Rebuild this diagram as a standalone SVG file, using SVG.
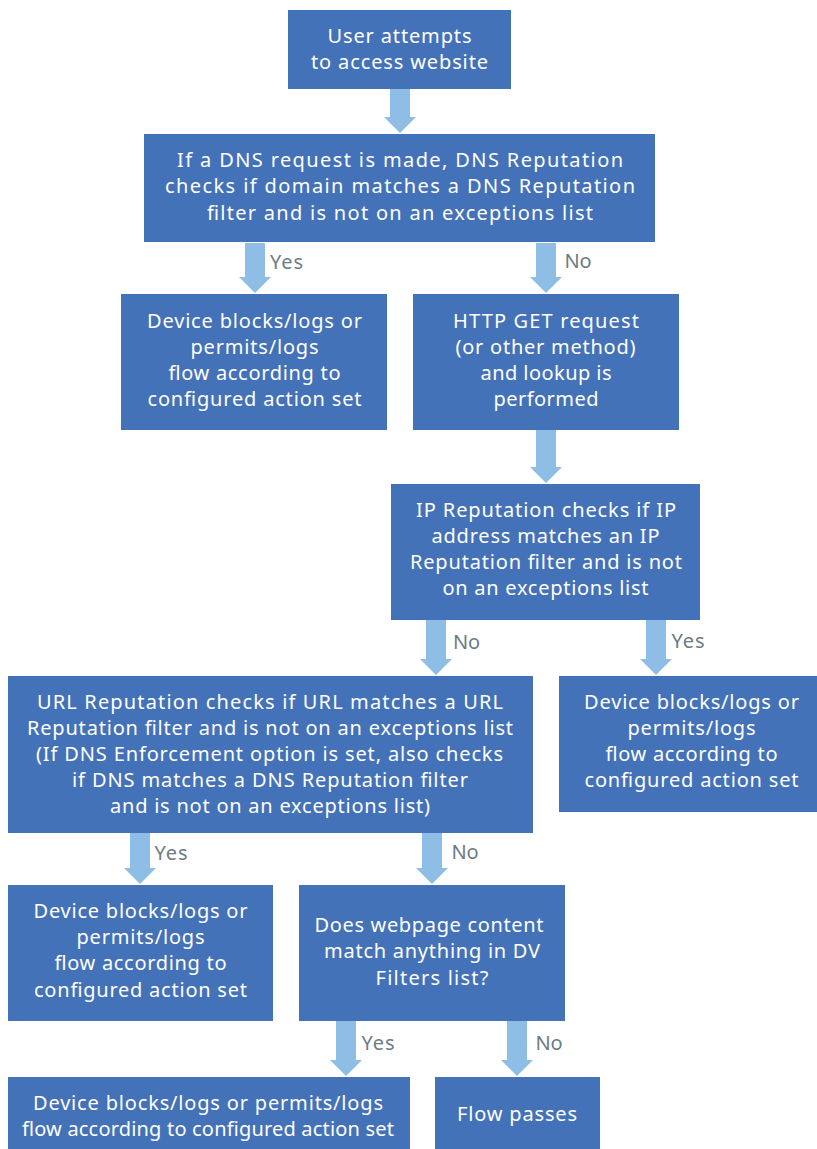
<svg xmlns="http://www.w3.org/2000/svg" width="817" height="1149" viewBox="0 0 817 1149">
<style>
.box{fill:#4472b8}
.t{font-family:"Noto Sans","Liberation Sans",sans-serif;font-size:20px;fill:#ffffff;text-anchor:middle}
.lbl{font-family:"Noto Sans","Liberation Sans",sans-serif;font-size:20px;fill:#6d7b83}
.arr{fill:#8ebee5}
</style>
<rect width="817" height="1149" fill="#ffffff"/>
<g id="connectors">
<polygon class="arr" points="390,89 410,89 410,117 416,117 400,133 384,117 390,117"/>
<polygon class="arr" points="245,243 265,243 265,277 271,277 255,293 239,277 245,277"/>
<polygon class="arr" points="536,243 556,243 556,277 562,277 546,293 530,277 536,277"/>
<polygon class="arr" points="536,430 556,430 556,467 562,467 546,483 530,467 536,467"/>
<polygon class="arr" points="426,620 446,620 446,659 452,659 436,675 420,659 426,659"/>
<polygon class="arr" points="646,620 666,620 666,659 672,659 656,675 640,659 646,659"/>
<polygon class="arr" points="130,833 150,833 150,868 156,868 140,884 124,868 130,868"/>
<polygon class="arr" points="422,833 442,833 442,868 448,868 432,884 416,868 422,868"/>
<polygon class="arr" points="336,1021 356,1021 356,1060 362,1060 346,1076 330,1060 336,1060"/>
<polygon class="arr" points="507,1021 527,1021 527,1060 533,1060 517,1076 501,1060 507,1060"/>
<text class="lbl" x="270" y="269" textLength="33">Yes</text>
<text class="lbl" x="564.5" y="268" textLength="27">No</text>
<text class="lbl" x="453" y="649" textLength="27">No</text>
<text class="lbl" x="671.5" y="648" textLength="33">Yes</text>
<text class="lbl" x="154.5" y="860" textLength="33">Yes</text>
<text class="lbl" x="451.5" y="859" textLength="27">No</text>
<text class="lbl" x="361.5" y="1050" textLength="33">Yes</text>
<text class="lbl" x="535.5" y="1050" textLength="27">No</text>
</g>
<g id="n1"><rect class="box" x="288" y="10" width="223" height="79"/>
<text class="t" x="399.5" y="43" textLength="144">User attempts</text><text class="t" x="399.5" y="69" textLength="177">to access website</text></g>
<g id="n2"><rect class="box" x="144" y="134" width="511" height="108"/>
<text class="t" x="400" y="167" textLength="446">If a DNS request is made, DNS Reputation</text>
<text class="t" x="400" y="193" textLength="470">checks if domain matches a DNS Reputation</text>
<text class="t" x="400" y="220" textLength="386">filter and is not on an exceptions list</text></g>
<g id="n3"><rect class="box" x="121" y="294" width="266" height="136"/>
<text class="t" x="254.5" y="328" textLength="215">Device blocks/logs or</text>
<text class="t" x="254.5" y="354" textLength="128">permits/logs</text>
<text class="t" x="254.5" y="380" textLength="172">flow according to</text>
<text class="t" x="254.5" y="406" textLength="214">configured action set</text></g>
<g id="n4"><rect class="box" x="413" y="294" width="266" height="136"/>
<text class="t" x="546" y="328" textLength="186">HTTP GET request</text>
<text class="t" x="545.5" y="354" textLength="180">(or other method)</text>
<text class="t" x="546" y="380" textLength="131">and lookup is</text>
<text class="t" x="546" y="406" textLength="105">performed</text></g>
<g id="n5"><rect class="box" x="391" y="484" width="309" height="136"/>
<text class="t" x="546" y="517" textLength="260">IP Reputation checks if IP</text>
<text class="t" x="545.5" y="543" textLength="228">address matches an IP</text>
<text class="t" x="546" y="569" textLength="272">Reputation filter and is not</text>
<text class="t" x="545.5" y="595" textLength="206">on an exceptions list</text></g>
<g id="n6"><rect class="box" x="8" y="676" width="525" height="157"/>
<text class="t" x="270" y="709" textLength="466">URL Reputation checks if URL matches a URL</text>
<text class="t" x="270" y="735" textLength="486">Reputation filter and is not on an exceptions list</text>
<text class="t" x="269.5" y="761" textLength="467">(If DNS Enforcement option is set, also checks</text>
<text class="t" x="270" y="787" textLength="396">if DNS matches a DNS Reputation filter</text>
<text class="t" x="270" y="813" textLength="320">and is not on an exceptions list)</text></g>
<g id="n7"><rect class="box" x="559" y="676" width="258" height="136"/>
<text class="t" x="691.5" y="709" textLength="215">Device blocks/logs or</text>
<text class="t" x="691.5" y="735" textLength="128">permits/logs</text>
<text class="t" x="691.5" y="761" textLength="172">flow according to</text>
<text class="t" x="691.5" y="787" textLength="214">configured action set</text></g>
<g id="n8"><rect class="box" x="8" y="885" width="265" height="136"/>
<text class="t" x="140.5" y="918" textLength="214">Device blocks/logs or</text>
<text class="t" x="140.5" y="944" textLength="128">permits/logs</text>
<text class="t" x="140.5" y="970" textLength="172">flow according to</text>
<text class="t" x="140.5" y="997" textLength="213">configured action set</text></g>
<g id="n9"><rect class="box" x="299" y="885" width="266" height="136"/>
<text class="t" x="429" y="932" textLength="229">Does webpage content</text>
<text class="t" x="432" y="958" textLength="216">match anything in DV</text>
<text class="t" x="432" y="985" textLength="113">Filters list?</text></g>
<g id="n10"><rect class="box" x="8" y="1077" width="402" height="72"/>
<text class="t" x="208" y="1110" textLength="350">Device blocks/logs or permits/logs</text>
<text class="t" x="208" y="1136" textLength="372">flow according to configured action set</text></g>
<g id="n11"><rect class="box" x="435" y="1077" width="165" height="72"/>
<text class="t" x="517" y="1121" textLength="120">Flow passes</text></g>
</svg>
